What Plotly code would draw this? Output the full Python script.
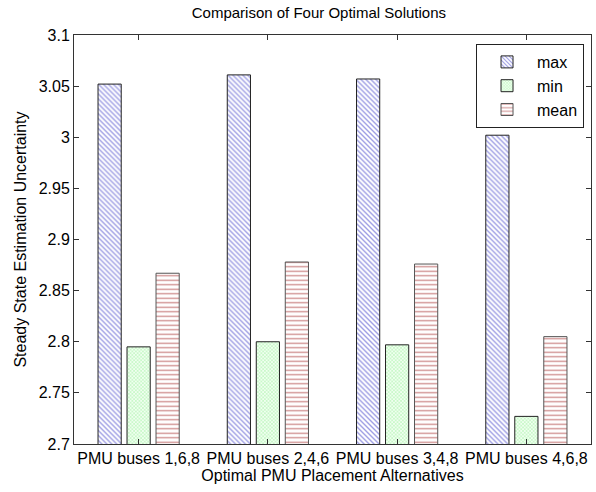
import plotly.graph_objects as go

categories = ["PMU buses 1,6,8", "PMU buses 2,4,6", "PMU buses 3,4,8", "PMU buses 4,6,8"]
max_vals = [3.052, 3.061, 3.057, 3.002]
min_vals = [2.795, 2.800, 2.797, 2.727]
mean_vals = [2.867, 2.878, 2.876, 2.805]
y_ticks = [2.7, 2.75, 2.8, 2.85, 2.9, 2.95, 3.0, 3.05, 3.1]
y_tick_text = ["2.7", "2.75", "2.8", "2.85", "2.9", "2.95", "3", "3.05", "3.1"]

font_family = "Liberation Sans, Arial, sans-serif"

fig = go.Figure()
fig.add_trace(go.Bar(
    name="max", x=categories, y=max_vals,
    marker=dict(color="white", line=dict(color="#222222", width=1),
                pattern=dict(shape="\\", fgcolor="#3c3cc8", bgcolor="white", size=3.5, solidity=0.4)),
))
fig.add_trace(go.Bar(
    name="min", x=categories, y=min_vals,
    marker=dict(color="white", line=dict(color="#222222", width=1),
                pattern=dict(shape="x", fgcolor="#66e866", bgcolor="#f0fff0", size=2.5, solidity=0.35)),
))
fig.add_trace(go.Bar(
    name="mean", x=categories, y=mean_vals,
    marker=dict(color="white", line=dict(color="#555555", width=1),
                pattern=dict(shape="-", fgcolor="#a02020", bgcolor="white", size=4.5, solidity=0.3)),
))

fig.update_layout(
    width=596, height=492,
    margin=dict(l=74, r=5, t=35, b=48),
    paper_bgcolor="white", plot_bgcolor="white",
    barmode="group", bargap=0.327, bargroupgap=0.2,
    font=dict(family=font_family, size=16, color="black"),
    title=dict(text="Comparison of Four Optimal Solutions", x=0.535, xanchor="center",
               y=1 - 13 / 492, yanchor="middle", font=dict(size=15)),
    legend=dict(x=0.9865, xanchor="right", y=0.978, yanchor="top",
                bgcolor="white", bordercolor="#222222", borderwidth=1,
                font=dict(size=16), traceorder="normal", itemwidth=50,
                tracegroupgap=0),
    showlegend=True,
)
fig.update_xaxes(
    showline=True, linecolor="#333333", linewidth=1, mirror="ticks",
    ticks="inside", ticklen=5, tickcolor="#333333", showgrid=False,
    tickfont=dict(size=16), tickangle=0, automargin=False,
    title=dict(text="Optimal PMU Placement Alternatives", font=dict(size=16), standoff=2),
)
fig.update_yaxes(
    range=[2.7, 3.1], tickvals=y_ticks, ticktext=y_tick_text,
    showline=True, linecolor="#333333", linewidth=1, mirror="ticks",
    ticks="inside", ticklen=5, tickcolor="#333333", showgrid=False, zeroline=False,
    tickfont=dict(size=16), automargin=False,
    title=dict(text="Steady State Estimation Uncertainty", font=dict(size=16), standoff=8),
)

fig.write_html("out.html", config={"displayModeBar": False},
               post_script="document.body.style.margin='0';")
